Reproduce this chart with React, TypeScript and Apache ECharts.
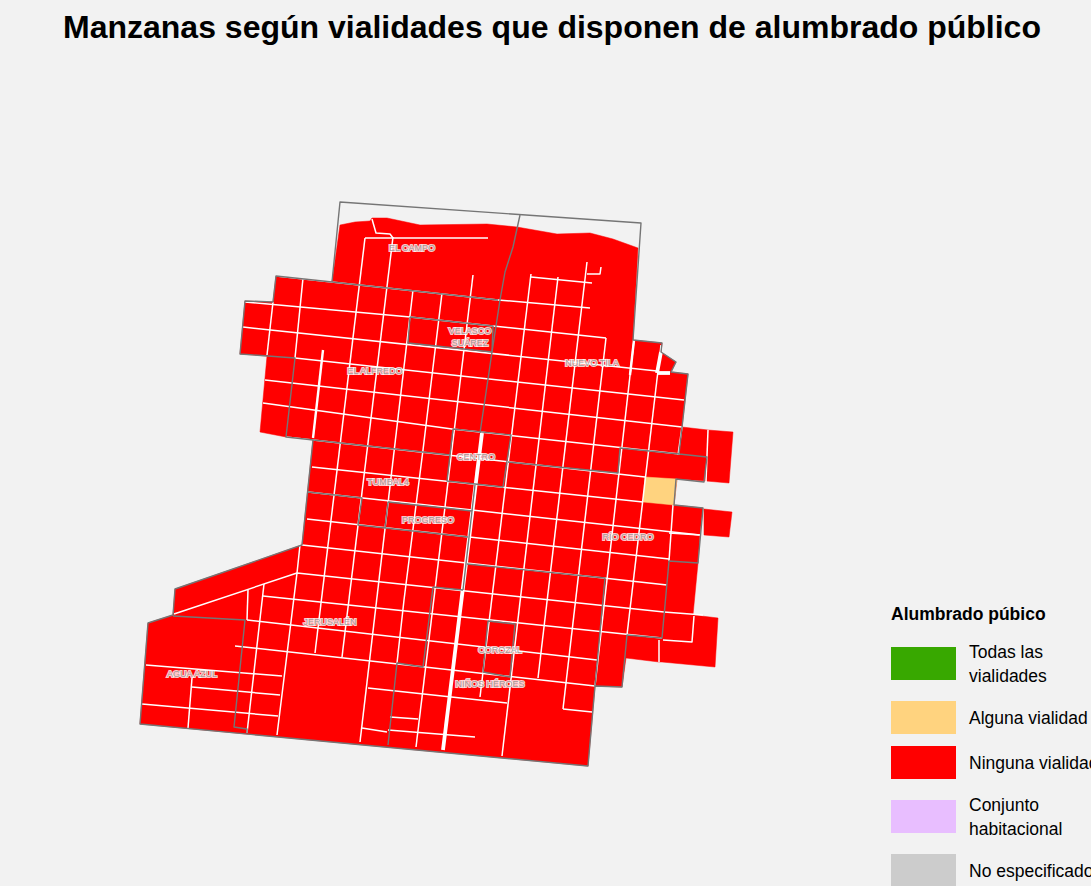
import React, { useEffect, useRef } from "react";
import * as echarts from "echarts";

const FONT = "'Liberation Sans', Arial, sans-serif";
const TITLE = "Manzanas según vialidades que disponen de alumbrado público";
const LEGEND_TITLE = "Alumbrado púbico";
const legendLabels = ["Todas las\nvialidades", "Alguna vialidad", "Ninguna vialidad", "Conjunto\nhabitacional", "No especificado"];
const legendColors = ["#38a800", "#ffd37f", "#ff0000", "#e8beff", "#cccccc"];

type P = number[];
// Manzanas
const redBlocks: P[][] = [
  [[340,225],[355,222],[370,221],[372,218],[387,218],[420,225],[487,224],[517,227],[557,234],[590,233],[613,239],[638,248],[633,340],[662,343],[661,352],[676,362],[671,372],[688,374],[682,427],[708,430],[733,432],[729,483],[706,481],[677,479],[674,505],[703,508],[700,534],[698,563],[693,615],[718,618],[715,667],[662,662],[659,662],[626,658],[622,687],[595,686],[588,766],[140,724],[148,623],[173,615],[175,589],[302,545],[313,440],[286,437],[260,432],[267,356],[240,354],[245,301],[273,302],[276,276],[332,282]],
  [[704,509],[732,512],[729,537],[704,535]],
];
const orangeBlocks: P[][] = [[[645,477],[677,479],[674,505],[643,502]]];

const thinStreets: P[][] = [
  [[365,238],[488,238]],
  [[372,219],[376,233],[390,234],[393,238]],
  [[276,276],[498,300],[590,308]],
  [[245,302],[410,317],[493,326],[578,335],[606,338]],
  [[243,327],[657,371]],
  [[295,358],[684,400]],
  [[265,380],[682,427]],
  [[263,403],[452,429],[680,454]],
  [[286,437],[645,477]],
  [[312,467],[643,502]],
  [[308,492],[700,535]],
  [[307,519],[669,559]],
  [[302,545],[667,585]],
  [[174,614],[297,573],[664,612]],
  [[263,596],[662,638]],
  [[247,620],[597,660]],
  [[235,646],[595,686]],
  [[368,688],[507,703]],
  [[563,709],[592,712]],
  [[390,717],[418,719]],
  [[388,730],[475,737]],
  [[362,728],[387,732]],
  [[146,665],[282,676]],
  [[192,687],[280,695]],
  [[142,704],[278,716]],
  [[531,277],[592,283]],
  [[587,274],[600,274],[601,267]],
  [[273,302],[267,355]],
  [[303,278],[295,358]],
  [[365,238],[315,653]],
  [[393,237],[342,657]],
  [[413,290],[360,742]],
  [[442,293],[423,450],[404,600],[397,663]],
  [[473,275],[416,747]],
  [[531,274],[480,697]],
  [[558,277],[502,756]],
  [[587,262],[538,678]],
  [[606,338],[563,709]],
  [[634,340],[595,686]],
  [[661,345],[627,635]],
  [[708,430],[706,482]],
  [[682,427],[678,455]],
  [[673,505],[669,561]],
  [[664,612],[703,615]],
  [[669,533],[700,535]],
  [[659,640],[659,662]],
  [[663,640],[692,642],[694,616]],
  [[300,545],[297,573],[277,735]],
  [[248,590],[247,620]],
  [[264,584],[247,733]],
  [[192,678],[188,728]],
];
const mediumStreets: P[][] = [
  [[323,350],[313,438]],
  [[634,340],[630,375]],
];
const wideStreets: P[][] = [
  [[482,433],[443,750]],
  [[661,352],[657,373]],
  [[657,373],[670,373]],
];
const boundaries: P[][] = [
  [[332,282],[340,202],[641,223],[633,340],[662,343],[661,352],[676,362],[671,372],[688,374],[679,454],[707,457],[704,482],[676,479],[674,505],[703,508],[698,563],[669,561],[662,638],[627,635],[622,687],[595,686],[588,766],[140,724],[148,623],[173,615],[175,589],[302,545],[313,440]],
  [[520,215],[513,247],[505,272],[500,300],[492,352],[480,433]],
  [[332,282],[276,276],[273,302],[245,301],[240,354],[295,358],[286,437],[450,455]],
  [[332,282],[498,300]],
  [[410,317],[493,326],[492,352],[408,343],[410,317]],
  [[453,429],[511,435],[503,487],[447,481],[453,429]],
  [[508,462],[618,473],[620,448],[679,454]],
  [[308,492],[362,498],[358,525],[468,537]],
  [[388,502],[472,511],[463,590]],
  [[388,502],[385,528]],
  [[475,485],[472,511]],
  [[467,564],[605,578],[595,686]],
  [[433,587],[463,590]],
  [[433,587],[423,667],[397,663],[388,745]],
  [[488,621],[515,624],[510,677],[483,672],[488,621]],
  [[173,616],[245,620],[234,727],[247,729],[247,733]],
];
const placeNames = ["EL CAMPO", "VELASCO\nSUÁREZ", "EL ALFREDO", "NUEVO TILA", "CENTRO", "TUMBAL4", "PROGRESO", "RÍO CEDRO", "JERUSALÉN", "COROZAL", "NIÑOS HÉROES", "AGUA AZUL"];
const placeX = [412, 470, 375, 592, 476, 388, 428, 628, 330, 500, 490, 192];
const placeY = [248, 337, 371, 363, 457, 482, 520, 537, 622, 650, 684, 674];

const polySeries = (name: string, polys: P[][], fill: string) => ({
  type: "custom", name, coordinateSystem: "cartesian2d", silent: true, clip: false,
  data: polys.map((_, i) => [i]),
  renderItem: (params: any, api: any) => ({
    type: "polygon",
    shape: { points: polys[params.dataIndex].map((p) => api.coord(p)) },
    style: { fill, stroke: fill, lineWidth: 0.5 },
  }),
});
const lineSeries = (name: string, lines: P[][], stroke: string, lineWidth: number) => ({
  type: "custom", name, coordinateSystem: "cartesian2d", silent: true, clip: false,
  data: lines.map((_, i) => [i]),
  renderItem: (params: any, api: any) => ({
    type: "polyline",
    shape: { points: lines[params.dataIndex].map((p) => api.coord(p)) },
    style: { fill: "none", stroke, lineWidth, lineJoin: "round" },
  }),
});

export default function App() {
  const ref = useRef<HTMLDivElement>(null);
  useEffect(() => {
    document.body.style.margin = "0";
    document.body.style.overflow = "hidden";
    const chart = echarts.init(ref.current!, null, { renderer: "svg" });
    const swatchY = [647, 701, 746, 800, 854];
    const legendGraphics: any[] = [
      { type: "text", x: 891, y: 605, style: { text: LEGEND_TITLE, font: `bold 17.5px ${FONT}`, fill: "#000" } },
    ];
    legendLabels.forEach((label, i) => {
      legendGraphics.push({ type: "rect", shape: { x: 891, y: swatchY[i], width: 65, height: 33 }, style: { fill: legendColors[i] } });
      legendGraphics.push({
        type: "text", x: 969, y: swatchY[i] + 16.5,
        style: { text: label, font: `17.5px ${FONT}`, fill: "#000", lineHeight: 24, verticalAlign: "middle", align: "left" },
      });
    });
    chart.setOption({
      animation: false,
      backgroundColor: "#f2f2f2",
      title: { text: TITLE, left: 58, top: 6, textStyle: { fontFamily: FONT, fontWeight: "bold", fontSize: 32, color: "#000" } },
      grid: { left: 0, right: 0, top: 0, bottom: 0 },
      xAxis: { type: "value", min: 0, max: 1091, show: false },
      yAxis: { type: "value", min: 0, max: 886, inverse: true, show: false },
      graphic: legendGraphics,
      series: [
        polySeries("Ninguna vialidad", redBlocks, "#ff0000"),
        polySeries("Alguna vialidad", orangeBlocks, "#ffd37f"),
        lineSeries("Calles", thinStreets, "#ffffff", 1.5),
        lineSeries("Calles anchas", mediumStreets, "#ffffff", 2.4),
        lineSeries("Avenidas", wideStreets, "#ffffff", 3.8),
        lineSeries("Colonias", boundaries, "#757575", 1.4),
        {
          type: "scatter", name: "Colonias nombres", silent: true, symbolSize: 0,
          data: placeNames.map((n, i) => ({ name: n, value: [placeX[i], placeY[i]] })),
          label: {
            show: true, position: "inside", formatter: "{b}",
            fontFamily: FONT, fontSize: 9, color: "#8c8c8c", textBorderColor: "#ffffff", textBorderWidth: 2.2, lineHeight: 12,
          },
        },
      ],
    });
    return () => chart.dispose();
  }, []);
  return <div ref={ref} style={{ position: "absolute", left: 0, top: 0, width: 1091, height: 886 }} />;
}
